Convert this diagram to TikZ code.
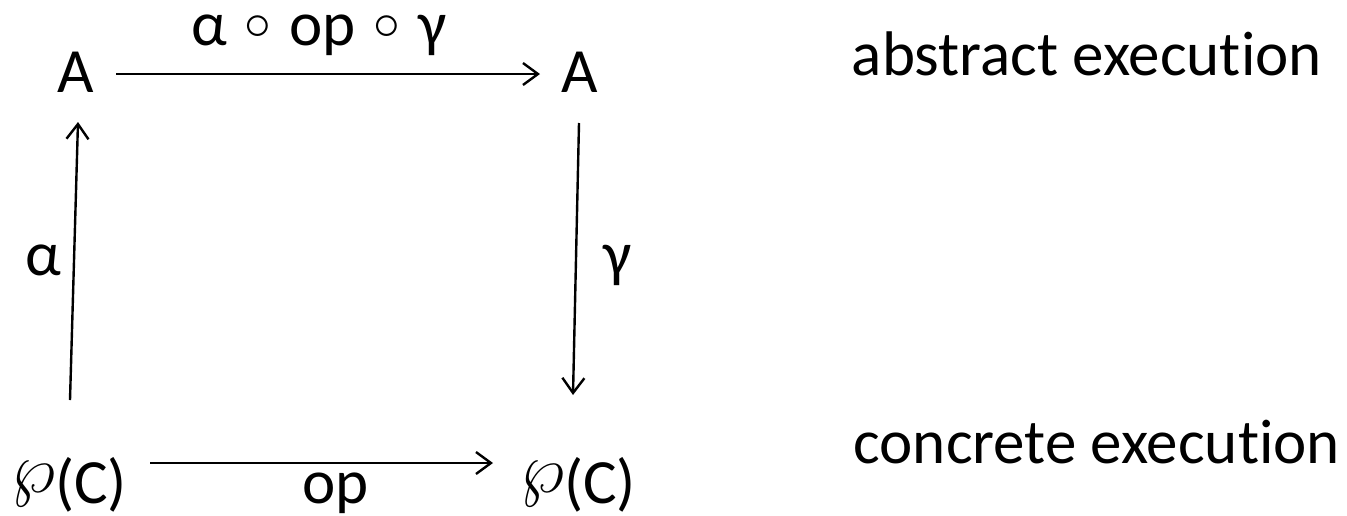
\documentclass[tikz,border=0pt]{standalone}
\usepackage{fix-cm}
\usepackage{fontspec}
\setmainfont{Carlito}[Ligatures={NoCommon}]
\usetikzlibrary{arrows.meta,calc}
\begin{document}
\begin{tikzpicture}[x=1pt,y=-1pt,
  txt/.style={inner sep=0pt,font=\fontsize{63}{75}\selectfont},
  arr/.style={line width=2.4pt,-{Straight Barb[length=15pt,width=22pt,line width=2.4pt]}}]
\useasboundingbox[fill=white] (0,0) rectangle (1347,515);
\newcommand{\pw}{\raisebox{11pt}{\scalebox{1.12}{$\wp$}}}
\newcommand{\rc}{\hspace*{18pt}\raisebox{6pt}{\scalebox{0.85}{$\circ$}}\hspace*{18pt}}
% nodes
\node[txt,anchor=base] (ta) at (76,92) {A};
\node[txt,anchor=base] (tb) at (580,92) {A};
\node[txt,anchor=base] (ba) at (69,503) {\pw(C)};
\node[txt,anchor=base] (bb) at (578,503) {\pw(C)};
\node[txt,anchor=base east] (abs) at (1322,75) {abstract execution};
\node[txt,anchor=base east] (con) at (1340,463) {concrete execution};
% connectors
\draw[arr] ($(ta.base)+(40,-18)$) -- ($(tb.base)+(-40,-18)$)
  node[txt,pos=0.5,anchor=base,xshift=-9pt,yshift=29pt] (l1) {α\rc op\rc γ};
\draw[arr] ($(ba.base)+(81,-40)$) -- ($(bb.base)+(-85,-40)$)
  node[txt,pos=0.5,anchor=base,xshift=14pt,yshift=-40pt] (l2) {op};
\draw[arr] ($(ba.base)+(1,-103)$) -- ($(ta.base)+(2,30)$)
  node[txt,pos=0.5,anchor=base,xshift=-31pt,yshift=-14pt] (l3) {α};
\draw[arr] ($(tb.base)+(-1,31)$) -- ($(bb.base)+(-5,-108)$)
  node[txt,pos=0.5,anchor=base,xshift=42pt,yshift=-16pt] (l4) {γ};
\end{tikzpicture}
\end{document}
